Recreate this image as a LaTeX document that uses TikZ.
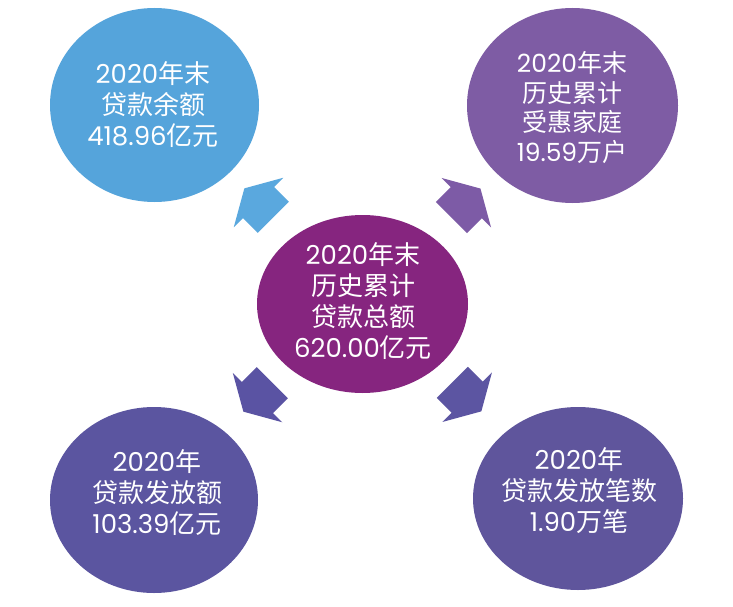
\documentclass[tikz,border=0pt]{standalone}
\usepackage{fontspec}
\setmainfont{Noto Sans CJK SC}
\newfontfamily\dg{Poppins}
\usetikzlibrary{shapes.geometric}
\definecolor{cTL}{HTML}{55A4DB}
\definecolor{cTR}{HTML}{7E5CA4}
\definecolor{cC}{HTML}{86257F}
\definecolor{cBL}{HTML}{5B55A0}
\definecolor{cBR}{HTML}{5F559C}
\definecolor{aTL}{HTML}{5AA8DE}
\definecolor{aTR}{HTML}{7D5BA6}
\definecolor{aBL}{HTML}{5A53A3}
\definecolor{aBR}{HTML}{5C55A2}
\newcommand\blockarrow[4]{%
  \fill[#3, shift={(#1)}, rotate=#2] (20,0) -- (0,35) -- (0,22) -- (-21,22) -- (-21,-22) -- (0,-22) -- (0,-35) -- cycle;%
  \coordinate (#4) at (#1);}
\begin{document}
\begin{tikzpicture}[x=1pt,y=-1pt,
  ell/.style={ellipse, draw=none, inner sep=0pt},
  txt/.style={text=white, align=center, inner sep=0pt, font=\fontsize{26}{31}\selectfont},
  txtt/.style={txt, font=\fontsize{25}{29.5}\selectfont}]
\useasboundingbox[fill=white] (0,0) rectangle (733,607);
% circles
\node[ell, fill=cTL, minimum width=209pt, minimum height=194pt] (tl) at (154.5,105) {};
\node[ell, fill=cTR, minimum width=211pt, minimum height=195pt] (tr) at (572.5,105.5) {};
\node[ell, fill=cC,  minimum width=211pt, minimum height=178pt] (c)  at (362.5,304) {};
\node[ell, fill=cBL, minimum width=208pt, minimum height=186pt] (bl) at (154,500) {};
\node[ell, fill=cBR, minimum width=210pt, minimum height=183pt] (br) at (578,498.5) {};
% texts
\node[txt]  (tlt) at (153,105)   {{\dg 2020}年末\\贷款余额\\{\dg 418.96}亿元};
\node[txtt] (trt) at (572,107.5) {{\dg 2020}年末\\历史累计\\受惠家庭\\{\dg 19.59}万户};
\node[txt]  (ct)  at (363,301)   {{\dg 2020}年末\\历史累计\\贷款总额\\{\dg 620.00}亿元};
\node[txt]  (blt) at (157,493)   {{\dg 2020}年\\贷款发放额\\{\dg 103.39}亿元};
\node[txt]  (brt) at (579,491)   {{\dg 2020}年\\贷款发放笔数\\{\dg 1.90}万笔};
% arrows
\blockarrow{258.5,202.5}{135}{aTL}{atl}
\blockarrow{466.3,202.7}{45}{aTR}{atr}
\blockarrow{257.5,397.5}{225}{aBL}{abl}
\blockarrow{467.2,397.2}{-45}{aBR}{abr}
\end{tikzpicture}
\end{document}
